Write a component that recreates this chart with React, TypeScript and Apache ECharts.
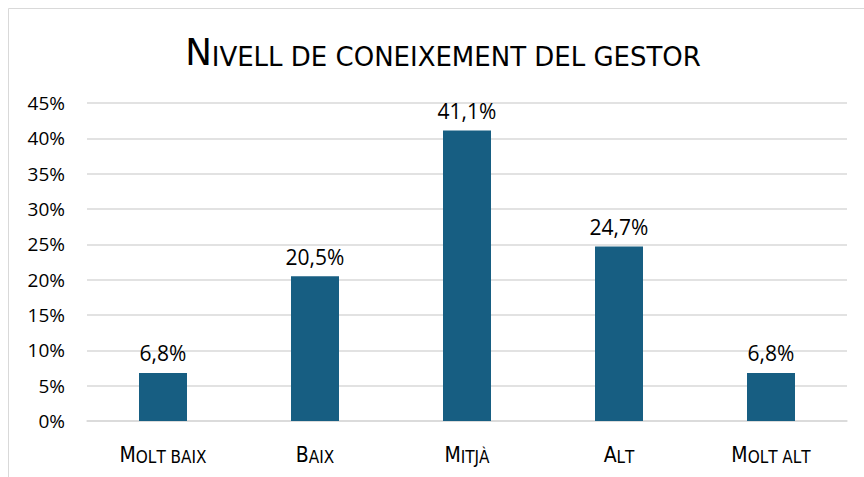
import React, { useEffect, useRef } from "react";
import * as echarts from "echarts";

const categories = ["Molt baix", "Baix", "Mitjà", "Alt", "Molt alt"];
const values = [6.8, 20.5, 41.1, 24.7, 6.8];
const titleText = "Nivell de coneixement del gestor";

const FONT = "'DejaVu Sans Condensed', 'Liberation Sans Narrow', sans-serif";
const NUMFONT = "'Open Sans', 'DejaVu Sans', sans-serif";

function smallCaps(s: string, big: string, small: string): string {
  let out = "";
  for (let i = 0; i < s.length; i++) {
    const ch = s[i];
    const isUpper = ch !== ch.toLowerCase() && ch === ch.toUpperCase();
    out += isUpper ? `{${big}|${ch}}` : `{${small}|${ch.toUpperCase()}}`;
  }
  return out;
}

export default function App() {
  const ref = useRef<HTMLDivElement>(null);
  useEffect(() => {
    if (!ref.current) return;
    const chart = echarts.init(ref.current, undefined, { renderer: "svg" });
    chart.setOption({
      animation: false,
      backgroundColor: "#ffffff",
      graphic: [
        {
          type: "rect",
          shape: { x: 8.5, y: 8.5, width: 900, height: 500 },
          style: { fill: "none", stroke: "#d9d9d9", lineWidth: 1 },
          silent: true,
        },
        {
          type: "text",
          x: 443,
          y: 50,
          scaleX: 1.07,
          style: {
            text: smallCaps(titleText, "b", "s"),
            textAlign: "center",
            textVerticalAlign: "middle",
            rich: {
              b: { fontFamily: FONT, fontSize: 37, fill: "#000", verticalAlign: "bottom", lineHeight: 40 },
              s: { fontFamily: FONT, fontSize: 27, fill: "#000", verticalAlign: "bottom", lineHeight: 40 },
            },
          },
        },
      ],
      grid: { left: 87, right: 17, top: 103, bottom: 56, containLabel: false },
      xAxis: {
        type: "category",
        data: categories,
        axisLine: { lineStyle: { color: "#d9d9d9", width: 1.5 } },
        axisTick: { show: false },
        axisLabel: {
          interval: 0,
          margin: 20,
          formatter: (v: string) => smallCaps(v, "b", "s"),
          rich: {
            b: { fontFamily: FONT, fontSize: 21, color: "#000", verticalAlign: "bottom", lineHeight: 24 },
            s: { fontFamily: FONT, fontSize: 17, color: "#000", verticalAlign: "bottom", lineHeight: 24 },
          },
        },
      },
      yAxis: {
        type: "value",
        min: 0,
        max: 45,
        interval: 5,
        axisLine: { show: false },
        axisTick: { show: false },
        splitLine: { lineStyle: { color: "#d9d9d9", width: 1.5 } },
        axisLabel: {
          margin: 22,
          fontFamily: NUMFONT,
          fontSize: 19,
          color: "#000",
          formatter: (v: number) => `${v}%`,
        },
      },
      series: [
        {
          type: "bar",
          data: values,
          barWidth: 48,
          itemStyle: { color: "#175E82" },
          label: {
            show: true,
            position: "top",
            distance: 9,
            fontFamily: NUMFONT,
            fontSize: 21,
            color: "#000",
            formatter: (p: any) => `${p.value.toFixed(1).replace(".", ",")}%`,
          },
        },
      ],
    });
    return () => chart.dispose();
  }, []);
  return (
    <div
      ref={ref}
      style={{ position: "absolute", left: 0, top: 0, width: 864, height: 477 }}
    />
  );
}
